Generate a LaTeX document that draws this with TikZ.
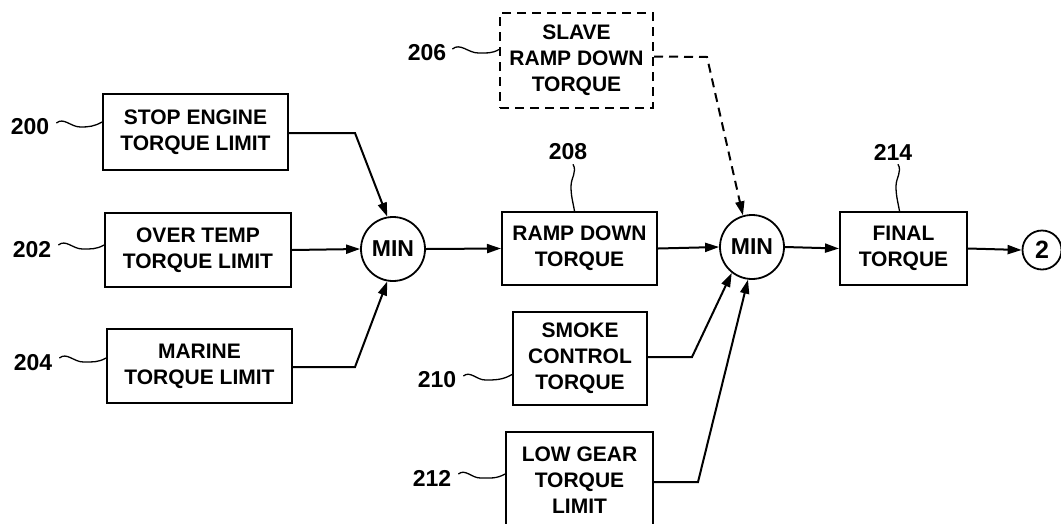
\documentclass[tikz,border=0pt]{standalone}
\usepackage{fontspec}
\setmainfont{Liberation Sans}
\usetikzlibrary{arrows.meta}
\begin{document}
\begin{tikzpicture}[x=1pt,y=1pt,
  blk/.style={draw,line width=2pt,align=center,inner sep=0pt,font=\fontsize{21}{26}\selectfont\bfseries},
  dblk/.style={blk,dash pattern=on 9pt off 6pt},
  minc/.style={draw,circle,line width=1.8pt,minimum size=64pt,inner sep=0pt,font=\fontsize{23}{26}\selectfont\bfseries},
  lab/.style={inner sep=0pt,font=\fontsize{23}{26}\selectfont\bfseries},
  arr/.style={line width=2pt,-{Triangle[length=14pt,width=9pt]}},
  darr/.style={arr,dash pattern=on 9pt off 6pt},
  lead/.style={line width=1.3pt}]
\useasboundingbox (0,0) rectangle (1061,-523);
% boxes
\node[blk,minimum width=185pt,minimum height=76pt] (b200) at (195.5,-132) {STOP ENGINE\\TORQUE LIMIT};
\node[blk,minimum width=186pt,minimum height=74pt] (b202) at (198,-250) {OVER TEMP\\TORQUE LIMIT};
\node[blk,minimum width=185pt,minimum height=74pt] (b204) at (199.5,-366) {MARINE\\TORQUE LIMIT};
\node[dblk,minimum width=153pt,minimum height=95pt] (b206) at (576.5,-60.5) {SLAVE\\RAMP DOWN\\TORQUE};
\node[blk,minimum width=155pt,minimum height=73pt] (b208) at (579.5,-248.5) {RAMP DOWN\\TORQUE};
\node[blk,minimum width=134pt,minimum height=93pt] (b210) at (580,-358.5) {SMOKE\\CONTROL\\TORQUE};
\node[blk,minimum width=147pt,minimum height=96pt] (b212) at (579.5,-480) {LOW GEAR\\TORQUE\\LIMIT};
\node[blk,minimum width=127pt,minimum height=73pt] (b214) at (903.5,-248.5) {FINAL\\TORQUE};
\node[minc] (min1) at (393,-249) {MIN};
\node[minc] (min2) at (752,-247) {MIN};
\node[minc,minimum size=39pt,font=\fontsize{25}{26}\selectfont\bfseries] (c2) at (1042,-250) {2};
% labels
\node[lab] (l200) at (30,-127) {200};
\node[lab] (l202) at (32,-250) {202};
\node[lab] (l204) at (33,-363) {204};
\node[lab] (l206) at (427,-53) {206};
\node[lab] (l208) at (568,-152) {208};
\node[lab] (l210) at (437,-380) {210};
\node[lab] (l212) at (432,-478) {212};
\node[lab] (l214) at (893,-152) {214};
% leaders
\draw[lead] ([xshift=7pt,yshift=4pt]l200.east) to[out=40,in=180] ++(24,-4) to[out=0,in=210] ([yshift=10pt]b200.west);
\draw[lead] ([xshift=7pt,yshift=5pt]l202.east) to[out=40,in=180] ++(24,-4) to[out=0,in=210] ([yshift=5pt]b202.west);
\draw[lead] ([xshift=7pt,yshift=5pt]l204.east) to[out=40,in=180] ++(24,-4) to[out=0,in=210] ([yshift=8pt]b204.west);
\draw[lead] ([xshift=6pt,yshift=4pt]l206.east) to[out=40,in=180] ++(26,-4) to[out=0,in=210] ([yshift=11pt]b206.west);
\draw[lead] ([xshift=7pt,yshift=4pt]l210.east) to[out=40,in=180] ++(22,-4) to[out=0,in=210] ([yshift=-16pt]b210.west);
\draw[lead] ([xshift=7pt,yshift=4pt]l212.east) to[out=40,in=180] ++(22,-4) to[out=0,in=210] ([yshift=6pt]b212.west);
\draw[lead] ([xshift=5pt,yshift=-4pt]l208.south) to[out=-60,in=90] ++(-2,-22) to[out=-90,in=100] ([xshift=-5pt]b208.north);
\draw[lead] ([xshift=5pt,yshift=-4pt]l214.south) to[out=-60,in=90] ++(-2,-22) to[out=-90,in=100] ([xshift=-4pt]b214.north);
% connectors
\draw[arr] ([yshift=-1pt]b200.east) -- (355,-133) -- (min1.100);
\draw[arr] (b202.east) -- (min1.west);
\draw[arr] ([yshift=-1pt]b204.east) -- (355,-367) -- (min1.-100);
\draw[arr] (min1.east) -- (b208.west);
\draw[darr] ([yshift=4pt]b206.east) -- (707,-57) -- (min2.106);
\draw[arr] (b208.east) -- (min2.west);
\draw[arr] ([yshift=1.5pt]b210.east) -- (692,-357) -- (min2.-128);
\draw[arr] ([yshift=-2pt]b212.east) -- (698,-482) -- (min2.-97);
\draw[arr] (min2.east) -- (b214.west);
\draw[arr] (b214.east) -- (c2.west);
\end{tikzpicture}
\end{document}
